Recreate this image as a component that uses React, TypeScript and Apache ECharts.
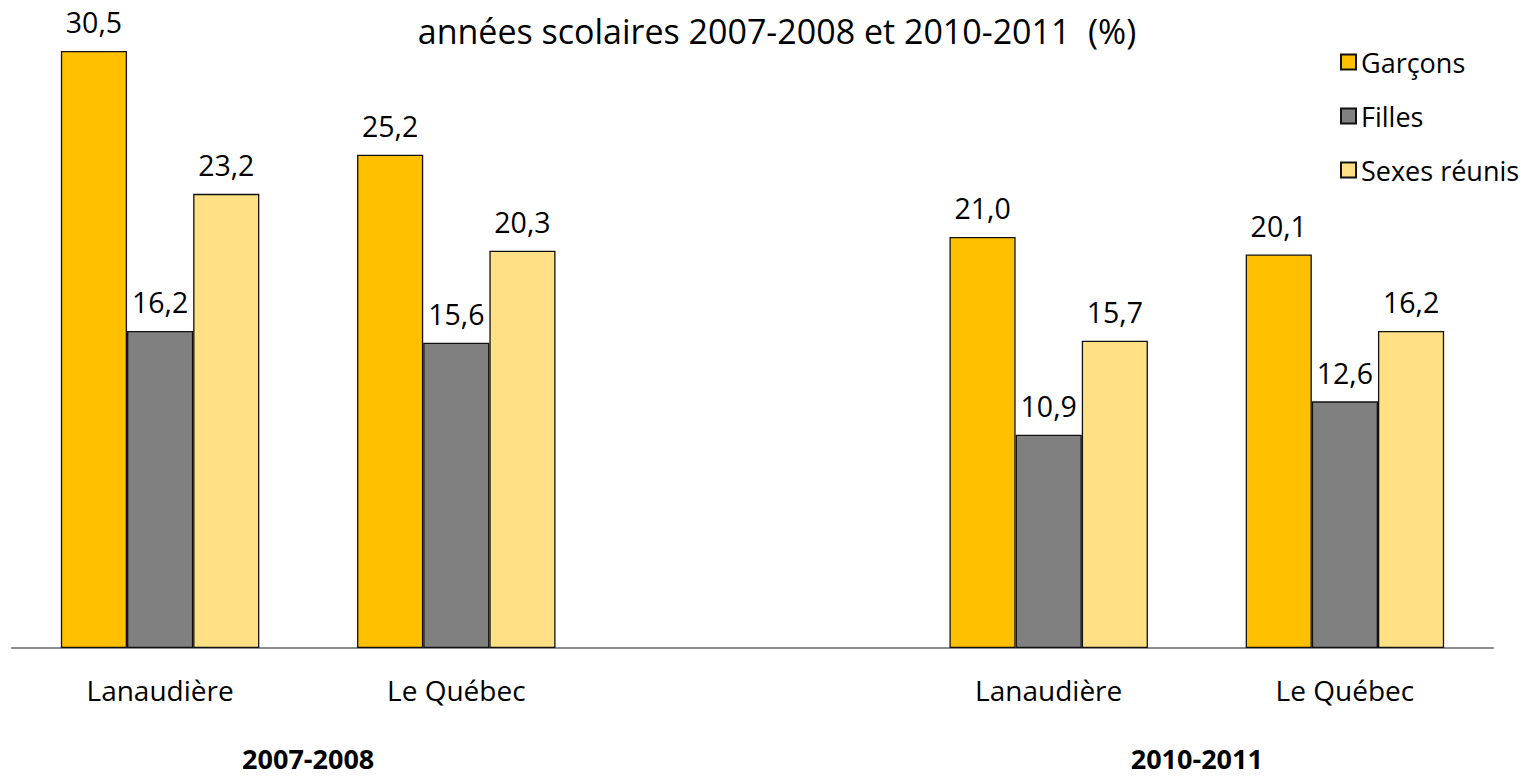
import React, { useEffect, useRef } from "react";
import * as echarts from "echarts";

const categories = ["Lanaudière", "Le Québec", "", "Lanaudière", "Le Québec"];
const groupLabels = ["", "2007-2008", "", "", "2010-2011", ""];
const garcons = [30.5, 25.2, null, 21.0, 20.1];
const filles = [16.2, 15.6, null, 10.9, 12.6];
const sexesReunis = [23.2, 20.3, null, 15.7, 16.2];
const titleText = "années scolaires 2007-2008 et 2010-2011  (%)";

const FONT = "'Open Sans', 'Noto Sans', sans-serif";

const fmt = (p: any) => (p.value == null ? "" : Number(p.value).toFixed(1).replace(".", ","));

export default function App() {
  const ref = useRef<HTMLDivElement>(null);
  useEffect(() => {
    if (!ref.current) return;
    const chart = echarts.init(ref.current, null, { renderer: "svg" });
    const label = {
      show: true,
      position: "top" as const,
      distance: 14,
      formatter: fmt,
      fontFamily: FONT,
      fontSize: 28.5,
      color: "#000",
    };
    const mk = (name: string, data: any[], color: string) => ({
      name,
      type: "bar",
      data,
      barGap: "0%",
      barCategoryGap: "33%",
      itemStyle: { color, borderColor: "#111", borderWidth: 1.3 },
      label,
    });
    chart.setOption({
      animation: false,
      backgroundColor: "#fff",
      title: {
        text: titleText,
        left: 772,
        textAlign: "center",
        top: 6,
        textStyle: { fontFamily: FONT, fontSize: 34, fontWeight: "normal", color: "#000", lineHeight: 40 },
      },
      legend: {
        orient: "vertical",
        left: 1335,
        top: 42,
        itemWidth: 15,
        itemHeight: 15,
        itemGap: 24,
        icon: "rect",
        textStyle: { fontFamily: FONT, fontSize: 27, lineHeight: 30, color: "#000" },
        data: ["Garçons", "Filles", "Sexes réunis"],
      },
      grid: { left: 12, right: 33, top: 21.6, bottom: 128, containLabel: false },
      xAxis: [
        {
          type: "category",
          data: categories,
          axisLine: { show: true, lineStyle: { color: "#8c8c8c", width: 2 } },
          axisTick: { show: false },
          axisLabel: { interval: 0, margin: 27, fontFamily: FONT, fontSize: 28, lineHeight: 30, color: "#000" },
        },
        {
          type: "category",
          data: groupLabels,
          position: "bottom",
          boundaryGap: false,
          axisLine: { show: false },
          axisTick: { show: false },
          axisLabel: {
            interval: 0,
            margin: 97,
            fontFamily: FONT,
            fontSize: 27,
            lineHeight: 26,
            fontWeight: "bold",
            color: "#000",
          },
        },
      ],
      yAxis: { type: "value", min: 0, max: 32, show: false, splitLine: { show: false } },
      series: [
        mk("Garçons", garcons, "#FFC000"),
        mk("Filles", filles, "#808080"),
        mk("Sexes réunis", sexesReunis, "#FFE084"),
      ],
    });
    return () => chart.dispose();
  }, []);
  return (
    <div
      ref={ref}
      style={{ position: "fixed", left: 0, top: 0, width: 1526, height: 776, background: "#fff" }}
    />
  );
}
